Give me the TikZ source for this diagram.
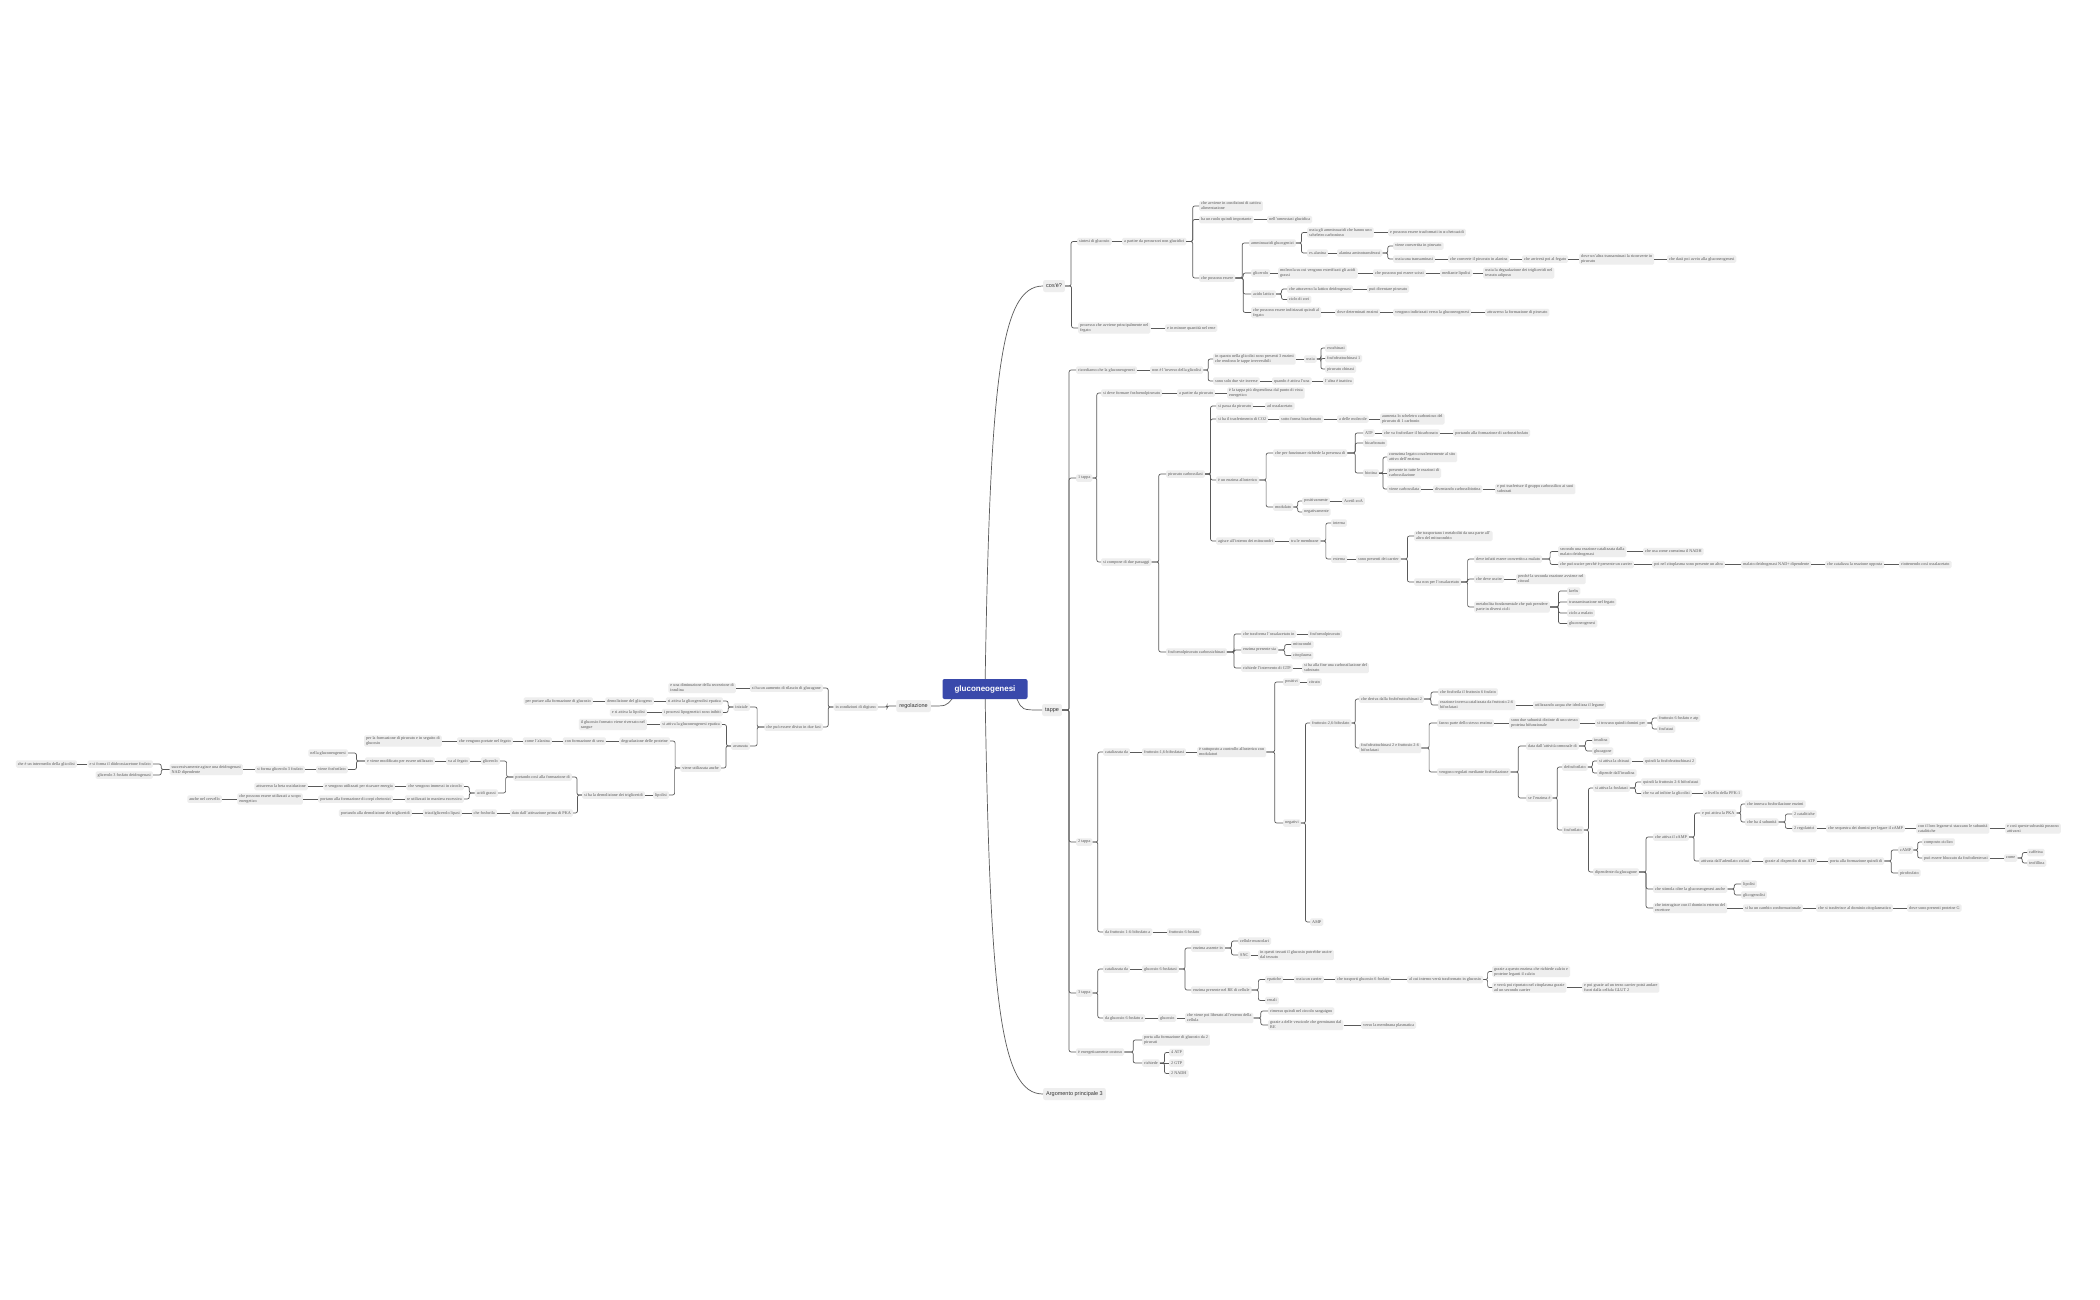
\documentclass[tikz,border=0pt]{standalone}
\usepackage{fontspec}
\setmainfont{Liberation Serif}
\newfontfamily\topicfont{Liberation Sans}
\usetikzlibrary{calc}
\definecolor{mmblue}{HTML}{3949AB}
\definecolor{mmfill}{HTML}{EEEEEE}
\definecolor{mmtext}{HTML}{555555}
\definecolor{mmline}{HTML}{5A5A5A}
\definecolor{mmdark}{HTML}{333333}
\tikzset{
  lf/.style={fill=mmfill, rounded corners=1.5pt, text=mmtext, align=left,
             font=\fontsize{4.2}{5}\selectfont, inner xsep=2pt, inner ysep=1.2pt,
             minimum height=7.5pt},
  rt/.style={lf, anchor=west},
  lt/.style={lf, anchor=east},
  topic/.style={fill=mmfill, rounded corners=2pt, text=mmdark, inner xsep=3pt,
                font=\topicfont\fontsize{5.5}{6.5}\selectfont, minimum height=12pt},
  conn/.style={draw=mmline, line width=0.7pt, rounded corners=2pt},
  % elbow link; a straight line when both ends stand at the same height
  br/.style={to path={let \p1=(\tikztostart), \p2=($(\tikztostart)!.5!(\tikztotarget)$),
             \p3=(\tikztotarget), \n1={abs(\y1-\y3)} in
             \ifdim\n1<0.3pt -- (\tikztotarget) \else -- (\x2,\y1) |- (\tikztotarget) \fi
             \tikztonodes}},
}
\begin{document}
\begin{tikzpicture}[x=1pt, y=-1pt]
\useasboundingbox[fill=white] (0,0) rectangle (2100,1300);

% centre and main topics
\node[topic, anchor=west] (cos) at (1043,286) {cos'è?};
\node[topic, anchor=west] (tap) at (1042,710) {tappe};
\node[topic, anchor=west] (arg) at (1043,1094) {Argomento principale 3};
\node[topic, anchor=east] (reg) at (931,706) {regolazione};
\coordinate (rm) at (985,689);
\coordinate (rl) at (952,699);
\coordinate (rr) at (1017,699);
\draw[conn] (rm) .. controls (990,380) and (1000,286) .. (cos.west);
\draw[conn] (rm) .. controls (990,1000) and (1000,1094) .. (arg.west);
\draw[conn] (rr) .. controls (1022,710) .. (tap.west);
\draw[conn] (rl) .. controls (946,706) .. (reg.east);
\node[fill=mmblue, text=white, rounded corners=2pt, minimum width=85pt, minimum height=20pt,
      font=\topicfont\bfseries\fontsize{8}{9}\selectfont] (root) at (985,689) {gluconeogenesi};

% cos'e?
\node[rt] (c1) at (1077,241.5) {sintesi di glucosio};
\node[rt] (c2) at (1122,241.5) {a partire da precursori non glucidici};
\node[rt] (c3) at (1199,206) {che avviene in condizioni di cattiva\\alimentazione};
\node[rt] (c4) at (1199,219.5) {ha un ruolo quindi importante};
\node[rt] (c5) at (1267,219.5) {nell'omeostasi glucidica};
\node[rt] (c6) at (1199,278) {che possono essere};
\node[rt] (c7) at (1249,243) {amminoacidi glucogenici};
\node[rt] (c8) at (1307,232.5) {ossia gli amminoacidi che hanno uno\\scheletro carbonioso};
\node[rt] (c9) at (1388,232.5) {e possono essere trasformati in α-chetoacidi};
\node[rt] (c10) at (1307,253) {es.alanina};
\node[rt] (c11) at (1337,253) {alanina aminotransferasi};
\node[rt] (c12) at (1393,246) {viene convertita in piruvato};
\node[rt] (c13) at (1393,259) {ossia una transaminasi};
\node[rt] (c14) at (1448,259) {che converte il piruvato in alanina};
\node[rt] (c15) at (1522,259) {che arriverà poi al fegato};
\node[rt] (c16) at (1579,259) {dove un'altra transaminasi la riconverte in\\piruvato};
\node[rt] (c17) at (1667,259) {che darà poi avvio alla gluconeogenesi};
\node[rt] (c18) at (1251,273) {glicerolo};
\node[rt] (c19) at (1278,273) {molecola su cui vengono esterificati gli acidi\\grassi};
\node[rt] (c20) at (1373,273) {che possono poi essere scissi};
\node[rt] (c21) at (1440,273) {mediante lipolisi};
\node[rt] (c22) at (1483,273) {ossia la degradazione dei trigliceridi nel\\tessuto adiposo};
\node[rt] (c23) at (1251,294) {acido lattico};
\node[rt] (c24) at (1287,289) {che attraverso la lattico deidrogenasi};
\node[rt] (c25) at (1367,289) {può diventare piruvato};
\node[rt] (c26) at (1287,299.5) {ciclo di cori};
\node[rt] (c27) at (1251,312.5) {che possono essere indirizzati quindi al\\fegato};
\node[rt] (c28) at (1335,312.5) {dove determinati enzimi};
\node[rt] (c29) at (1393,312.5) {vengono indirizzati verso la gluconeogenesi};
\node[rt] (c30) at (1485,312.5) {attraverso la formazione di piruvato};
\node[rt] (c31) at (1078,328) {processo che avviene principalmente nel\\fegato};
\node[rt] (c32) at (1165,328) {e in minore quantità nel rene};

% tappe: premessa
\node[rt] (p1) at (1076,370) {ricordiamo che la gluconeogenesi};
\node[rt] (p2) at (1150,370) {non è l'inverso della glicolisi};
\node[rt] (p3) at (1213,359) {in quanto nella glicolisi sono presenti 3 enzimi\\che rendono le tappe irreversibili};
\node[rt] (p4) at (1304,359) {ossia};
\node[rt] (p5) at (1325,348) {esochinasi};
\node[rt] (p6) at (1325,358.5) {fosfofruttochinasi 1};
\node[rt] (p7) at (1325,369) {piruvato chinasi};
\node[rt] (p8) at (1213,381) {sono solo due vie inverse};
\node[rt] (p9) at (1272,381) {quando è attiva l'una};
\node[rt] (p10) at (1323,381) {l'altra è inattiva};

% 1 tappa
\node[rt] (a0) at (1076,478) {1 tappa};
\node[rt] (a1) at (1101,393) {si deve formare fosfoenolpiruvato};
\node[rt] (a2) at (1177,393) {a partire da piruvato};
\node[rt] (a3) at (1227,393) {è la tappa più dispendiosa dal punto di vista\\energetico};
\node[rt] (a4) at (1101,562) {si compone di due passaggi};
\node[rt] (a5) at (1166,474) {piruvato carbossilasi};
\node[rt] (a6) at (1216,406) {si passa da piruvato};
\node[rt] (a7) at (1265,406) {ad ossalacetato};
\node[rt] (a8) at (1216,419) {si ha il trasferimento di CO2};
\node[rt] (a9) at (1279,419) {sotto forma bicarbonato};
\node[rt] (a10) at (1337,419) {a delle molecole};
\node[rt] (a11) at (1380,419) {aumenta lo scheletro carbonioso del\\piruvato di 1 carbonio};
\node[rt] (a12) at (1216,480) {è un enzima allosterico};
\node[rt] (a13) at (1273,453) {che per funzionare richiede la presenza di};
\node[rt] (a14) at (1363,433) {ATP};
\node[rt] (a15) at (1382,433) {che va fosforilare il bicarbonato};
\node[rt] (a16) at (1453,433) {portando alla formazione di carbossifosfato};
\node[rt] (a17) at (1363,443) {bicarbonato};
\node[rt] (a18) at (1363,473) {biotina};
\node[rt] (a19) at (1387,457) {coenzima legato covalentemente al sito\\attivo dell'enzima};
\node[rt] (a20) at (1387,473) {presente in tutte le reazioni di\\carbossilazione};
\node[rt] (a21) at (1387,489) {viene carbossilata};
\node[rt] (a22) at (1433,489) {diventando carbossibiotina};
\node[rt] (a23) at (1495,489) {e poi trasferisce il gruppo carbossilico ai suoi\\substrati};
\node[rt] (a24) at (1273,507) {modulato};
\node[rt] (a25) at (1302,501) {positivamente};
\node[rt] (a26) at (1342,501) {Acetil-coA};
\node[rt] (a27) at (1302,512) {negativamente};
\node[rt] (a28) at (1216,541) {agisce all'interno dei mitocondri};
\node[rt] (a29) at (1289,541) {tra le membrane};
\node[rt] (a30) at (1331,523) {interna};
\node[rt] (a31) at (1331,559) {esterna};
\node[rt] (a32) at (1356,559) {sono presenti dei carrier};
\node[rt] (a33) at (1414,536) {che trasportano i metaboliti da una parte all'\\altro del mitocondrio};
\node[rt] (a34) at (1414,582) {ma non per l'ossalacetato};
\node[rt] (a35) at (1474,559) {deve infatti essere convertito a malato};
\node[rt] (a36) at (1558,551.5) {secondo una reazione catalizzata dalla\\malato deidrogenasi};
\node[rt] (a37) at (1643,551.5) {che usa come coenzima il NADH};
\node[rt] (a38) at (1558,564.5) {che può uscire perché è presente un carrier};
\node[rt] (a39) at (1652,564.5) {poi nel citoplasma sono presente un altra};
\node[rt] (a40) at (1741,564.5) {malato deidrogenasi NAD+ dipendente};
\node[rt] (a41) at (1825,564.5) {che catalizza la reazione opposta};
\node[rt] (a42) at (1899,564.5) {riottenendo così ossalacetato};
\node[rt] (a43) at (1474,579) {che deve uscire};
\node[rt] (a44) at (1516,579) {perché la seconda reazione avviene nel\\citosol};
\node[rt] (a45) at (1474,607) {metabolita fondamentale che può prendere\\parte in diversi cicli};
\node[rt] (a46) at (1567,591) {krebs};
\node[rt] (a47) at (1567,602) {transaminazione nel fegato};
\node[rt] (a48) at (1567,613) {ciclo a malato};
\node[rt] (a49) at (1567,623.5) {gluconeogenesi};
\node[rt] (a50) at (1166,652) {fosfoenolpiruvato carbossichinasi};
\node[rt] (a51) at (1241,634) {che trasforma l'ossalacetato in};
\node[rt] (a52) at (1308,634) {fosfoenolpiruvato};
\node[rt] (a53) at (1241,650) {enzima presente sia};
\node[rt] (a54) at (1291,644.5) {mitocondri};
\node[rt] (a55) at (1291,655.5) {citoplasma};
\node[rt] (a56) at (1241,668) {richiede l'intervento di GTP};
\node[rt] (a57) at (1302,668) {si ha alla fine una carbossilazione del\\substrato};

% 2 tappa
\node[rt] (b0) at (1076,842) {2 tappa};
\node[rt] (b1) at (1103,752) {catalizzata da};
\node[rt] (b2) at (1142,752) {fruttosio-1,6-bifosfatasi};
\node[rt] (b3) at (1197,752) {è sottoposto a controllo allosterico con\\modulatori};
\node[rt] (b4) at (1283,682) {positivi};
\node[rt] (b5) at (1307,682) {citrato};
\node[rt] (b6) at (1283,823) {negativi};
\node[rt] (b7) at (1310,723) {fruttosio-2,6-bifosfato};
\node[rt] (b8) at (1359,699) {che deriva dalla fosfofruttochinasi 2};
\node[rt] (b9) at (1438,692) {che fosforila il fruttosio 6 fosfato};
\node[rt] (b10) at (1438,705) {reazione inversa catalizzata da fruttosio 2-6\\bifosfatasi};
\node[rt] (b11) at (1533,705) {utilizzando acqua che idrolizza il legame};
\node[rt] (b12) at (1359,748) {fosfofruttochinasi 2 e fruttosio 2-6\\bifosfatasi};
\node[rt] (b13) at (1437,723) {fanno parte dello stesso enzima};
\node[rt] (b14) at (1509,723) {sono due subunità distinte di uno stesso\\proteina bifunzionale};
\node[rt] (b15) at (1595,723) {si trovano quindi domini per};
\node[rt] (b16) at (1657,718) {fruttosio 6 fosfato e atp};
\node[rt] (b17) at (1657,729) {fosfatasi};
\node[rt] (b18) at (1437,772) {vengono regolati mediante fosforilazione};
\node[rt] (b19) at (1526,746) {data dall'attività ormonale di};
\node[rt] (b20) at (1592,740.5) {insulina};
\node[rt] (b21) at (1592,751) {glucagone};
\node[rt] (b22) at (1526,798) {se l'enzima è};
\node[rt] (b23) at (1562,767) {defosforilato};
\node[rt] (b24) at (1597,761) {si attiva la chinasi};
\node[rt] (b25) at (1643,761) {quindi la fosfofruttochinasi 2};
\node[rt] (b26) at (1597,773) {dipende dall'insulina};
\node[rt] (b27) at (1562,830) {fosforilato};
\node[rt] (b28) at (1593,788) {si attiva la fosfatasi};
\node[rt] (b29) at (1641,782) {quindi la fruttosio 2-6 bifosfatasi};
\node[rt] (b30) at (1641,793.5) {che va ad inibire la glicolisi};
\node[rt] (b31) at (1703,793.5) {a livello della PFK-1};
\node[rt] (b32) at (1593,872) {dipendente da glucagone};
\node[rt] (b33) at (1653,837) {che attiva il cAMP};
\node[rt] (b34) at (1700,813) {e poi attiva la PKA};
\node[rt] (b35) at (1745,804) {che innesca fosforilazione enzimi};
\node[rt] (b36) at (1745,822) {che ha 4 subunità};
\node[rt] (b37) at (1792,814) {2 catalitiche};
\node[rt] (b38) at (1792,828.5) {2 regolatrici};
\node[rt] (b39) at (1826,828.5) {che sequestra dei domini per legare il cAMP};
\node[rt] (b40) at (1916,828.5) {con il loro legame si staccano le subunità\\catalitiche};
\node[rt] (b41) at (2005,828.5) {e così queste subunità possono\\attivarsi};
\node[rt] (b42) at (1699,861) {attivata dall'adenilato ciclasi};
\node[rt] (b43) at (1763,861) {grazie al dispendio di un ATP};
\node[rt] (b44) at (1828,861) {porta alla formazione quindi di};
\node[rt] (b45) at (1898,850) {cAMP};
\node[rt] (b46) at (1922,842) {composto ciclico};
\node[rt] (b47) at (1922,858) {può essere bloccato da fosfodiesterasi};
\node[rt] (b48) at (2004,858) {come};
\node[rt] (b49) at (2027,852.5) {caffeina};
\node[rt] (b50) at (2027,863) {teofillina};
\node[rt] (b51) at (1898,873) {pirofosfato};
\node[rt] (b52) at (1653,889) {che stimola oltre la gluconeogenesi anche};
\node[rt] (b53) at (1741,884) {lipolisi};
\node[rt] (b54) at (1741,895) {glicogenolisi};
\node[rt] (b55) at (1653,908) {che interagisce con il dominio esterno del\\recettore};
\node[rt] (b56) at (1743,908) {si ha un cambio conformazionale};
\node[rt] (b57) at (1816,908) {che si trasferisce al dominio citoplasmatico};
\node[rt] (b58) at (1907,908) {dove sono presenti proteine G};
\node[rt] (b59) at (1310,922) {AMP};
\node[rt] (b60) at (1103,932) {da fruttosio 1-6-bifosfato a};
\node[rt] (b61) at (1167,932) {fruttosio 6 fosfato};

% 3 tappa
\node[rt] (d0) at (1076,993) {3 tappa};
\node[rt] (d1) at (1103,969) {catalizzata da};
\node[rt] (d2) at (1142,969) {glucosio 6 fosfatasi};
\node[rt] (d3) at (1191,948) {enzima assente in};
\node[rt] (d4) at (1238,941) {cellule muscolari};
\node[rt] (d5) at (1238,955) {SNC};
\node[rt] (d6) at (1258,955) {in questi tessuti il glucosio potrebbe uscire\\dal tessuto};
\node[rt] (d7) at (1191,990) {enzima presente nel RE di cellule};
\node[rt] (d8) at (1265,979.5) {epatiche};
\node[rt] (d9) at (1294,979.5) {ossia un carrier};
\node[rt] (d10) at (1335,979.5) {che trasporti glucosio 6 fosfato};
\node[rt] (d11) at (1407,979.5) {al cui interno verrà trasformato in glucosio};
\node[rt] (d12) at (1492,971.5) {grazie a questo enzima che richiede calcio e\\proteine leganti il calcio};
\node[rt] (d13) at (1492,987.5) {e verrà poi riportato nel citoplasma grazie\\ad un secondo carrier};
\node[rt] (d14) at (1582,987.5) {e poi grazie ad un terzo carrier potrà andare\\fuori dalla cellula GLUT 2};
\node[rt] (d15) at (1265,1000.5) {renali};
\node[rt] (d16) at (1103,1018) {da glucosio 6 fosfato a};
\node[rt] (d17) at (1158,1018) {glucosio};
\node[rt] (d18) at (1185,1018) {che viene poi liberato all'esterno della\\cellula};
\node[rt] (d19) at (1268,1011) {rimesso quindi nel circolo sanguigno};
\node[rt] (d20) at (1268,1025) {grazie a delle vescicole che germinano dal\\RE};
\node[rt] (d21) at (1361,1025) {verso la membrana plasmatica};
\node[rt] (e0) at (1076,1052) {è energeticamente costoso};
\node[rt] (e1) at (1142,1040) {porta alla formazione di glucosio da 2\\piruvati};
\node[rt] (e2) at (1142,1063) {richiede};
\node[rt] (e3) at (1169,1052.5) {4 ATP};
\node[rt] (e4) at (1169,1063) {2 GTP};
\node[rt] (e5) at (1169,1073.5) {2 NADH};

% regolazione
\node[lt] (r1) at (878,707) {in condizioni di digiuno};
\node[lt] (r2) at (823,688) {si ha un aumento di rilascio di glucagone};
\node[lt] (r3) at (736,688) {e una diminuzione della secrezione di\\insulina};
\node[lt] (r4) at (823,727) {che può essere diviso in due fasi};
\node[lt] (r5) at (750,707) {iniziale};
\node[lt] (r6) at (723,701) {si attiva la glicogenolisi epatica};
\node[lt] (r7) at (654,701) {demolizione del glicogeno};
\node[lt] (r8) at (593,701) {per portare alla formazione di glucosio};
\node[lt] (r9) at (723,712.5) {i processi lipogenetici sono inibiti};
\node[lt] (r10) at (647,712.5) {e si attiva la lipolisi};
\node[lt] (r11) at (750,746) {avanzata};
\node[lt] (r12) at (722,724.5) {si attiva la gluconeogenesi epatica};
\node[lt] (r13) at (647,724.5) {il glucosio formato viene riversato nel\\sangue};
\node[lt] (r14) at (721,768) {viene utilizzata anche};
\node[lt] (r15) at (670,741) {degradazione delle proteine};
\node[lt] (r16) at (606,741) {con formazione di urea};
\node[lt] (r17) at (552,741) {come l'alanina};
\node[lt] (r18) at (513,741) {che vengono portate nel fegato};
\node[lt] (r19) at (442,741) {per la formazione di piruvato e in seguito di\\glucosio};
\node[lt] (r20) at (669,795) {lipolisi};
\node[lt] (r21) at (645,795) {si ha la demolizione dei trigliceridi};
\node[lt] (r22) at (572,777) {portando così alla formazione di};
\node[lt] (r23) at (500,761) {glicerolo};
\node[lt] (r24) at (470,761) {va al fegato};
\node[lt] (r25) at (435,761) {e viene modificato per essere utilizzato};
\node[lt] (r26) at (348,753) {nella gluconeogenesi};
\node[lt] (r27) at (348,769.5) {viene fosforilato};
\node[lt] (r28) at (305,769.5) {si forma glicerolo 3 fosfato};
\node[lt] (r29) at (243,769.5) {successivamente agisce una deidrogenasi\\NAD dipendente};
\node[lt] (r30) at (153,764) {e si forma il diidrossiacetone fosfato};
\node[lt] (r31) at (77,764) {che è un intermedio della glicolisi};
\node[lt] (r32) at (153,775) {glicerolo 3 fosfato deidrogenasi};
\node[lt] (r33) at (498,793) {acidi grassi};
\node[lt] (r34) at (464,786.5) {che vengono immessi in circolo};
\node[lt] (r35) at (395,786.5) {e vengono utilizzati per ricavare energia};
\node[lt] (r36) at (308,786.5) {attraverso la beta ossidazione};
\node[lt] (r37) at (464,799) {se utilizzati in maniera eccessiva};
\node[lt] (r38) at (393,799) {portano alla formazione di corpi chetonici};
\node[lt] (r39) at (303,799) {che possono essere utilizzati a scopo\\energetico};
\node[lt] (r40) at (222,799) {anche nel cervello};
\node[lt] (r41) at (573,813) {dato dall'attivazione prima di PKA};
\node[lt] (r42) at (497,813) {che fosforila};
\node[lt] (r43) at (462,813) {triacilglicerolo lipasi};
\node[lt] (r44) at (412,813) {portando alla demolizione dei trigliceridi};

% connectors, right side
\foreach \a/\b in {cos/c1, cos/c31, c1/c2, c2/c3, c2/c4, c4/c5, c2/c6, c6/c7, c7/c8, c8/c9,
  c7/c10, c10/c11, c11/c12, c11/c13, c13/c14, c14/c15, c15/c16, c16/c17, c6/c18, c18/c19,
  c19/c20, c20/c21, c21/c22, c6/c23, c23/c24, c24/c25, c23/c26, c6/c27, c27/c28, c28/c29,
  c29/c30, c31/c32,
  tap/p1, p1/p2, p2/p3, p3/p4, p4/p5, p4/p6, p4/p7, p2/p8, p8/p9, p9/p10,
  tap/a0, a0/a1, a1/a2, a2/a3, a0/a4, a4/a5, a5/a6, a6/a7, a5/a8, a8/a9, a9/a10, a10/a11,
  a5/a12, a12/a13, a13/a14, a14/a15, a15/a16, a13/a17, a13/a18, a18/a19, a18/a20, a18/a21,
  a21/a22, a22/a23, a12/a24, a24/a25, a25/a26, a24/a27, a5/a28, a28/a29, a29/a30, a29/a31,
  a31/a32, a32/a33, a32/a34, a34/a35, a35/a36, a36/a37, a35/a38, a38/a39, a39/a40, a40/a41,
  a41/a42, a34/a43, a43/a44, a34/a45, a45/a46, a45/a47, a45/a48, a45/a49, a4/a50, a50/a51,
  a51/a52, a50/a53, a53/a54, a53/a55, a50/a56, a56/a57,
  tap/b0, b0/b1, b1/b2, b2/b3, b3/b4, b4/b5, b3/b6, b6/b7, b7/b8, b8/b9, b8/b10, b10/b11,
  b7/b12, b12/b13, b13/b14, b14/b15, b15/b16, b15/b17, b12/b18, b18/b19, b19/b20, b19/b21,
  b18/b22, b22/b23, b23/b24, b24/b25, b23/b26, b22/b27, b27/b28, b28/b29, b28/b30, b30/b31,
  b27/b32, b32/b33, b33/b34, b34/b35, b34/b36, b36/b37, b36/b38, b38/b39, b39/b40, b40/b41,
  b33/b42, b42/b43, b43/b44, b44/b45, b45/b46, b45/b47, b47/b48, b48/b49, b48/b50, b44/b51,
  b32/b52, b52/b53, b52/b54, b32/b55, b55/b56, b56/b57, b57/b58, b6/b59, b0/b60, b60/b61,
  tap/d0, d0/d1, d1/d2, d2/d3, d3/d4, d3/d5, d5/d6, d2/d7, d7/d8, d8/d9, d9/d10, d10/d11,
  d11/d12, d11/d13, d13/d14, d7/d15, d0/d16, d16/d17, d17/d18, d18/d19, d18/d20, d20/d21,
  tap/e0, e0/e1, e0/e2, e2/e3, e2/e4, e2/e5}
  \draw[conn] (\a.east) to[br] (\b.west);

% connectors, left side
\foreach \a/\b in {reg/r1, r1/r2, r2/r3, r1/r4, r4/r5, r5/r6, r6/r7, r7/r8, r5/r9, r9/r10,
  r4/r11, r11/r12, r12/r13, r11/r14, r14/r15, r15/r16, r16/r17, r17/r18, r18/r19, r14/r20,
  r20/r21, r21/r22, r22/r23, r23/r24, r24/r25, r25/r26, r25/r27, r27/r28, r28/r29, r29/r30,
  r30/r31, r29/r32, r22/r33, r33/r34, r34/r35, r35/r36, r33/r37, r37/r38, r38/r39, r39/r40,
  r21/r41, r41/r42, r42/r43, r43/r44}
  \draw[conn] (\a.west) to[br] (\b.east);
\end{tikzpicture}
\end{document}
